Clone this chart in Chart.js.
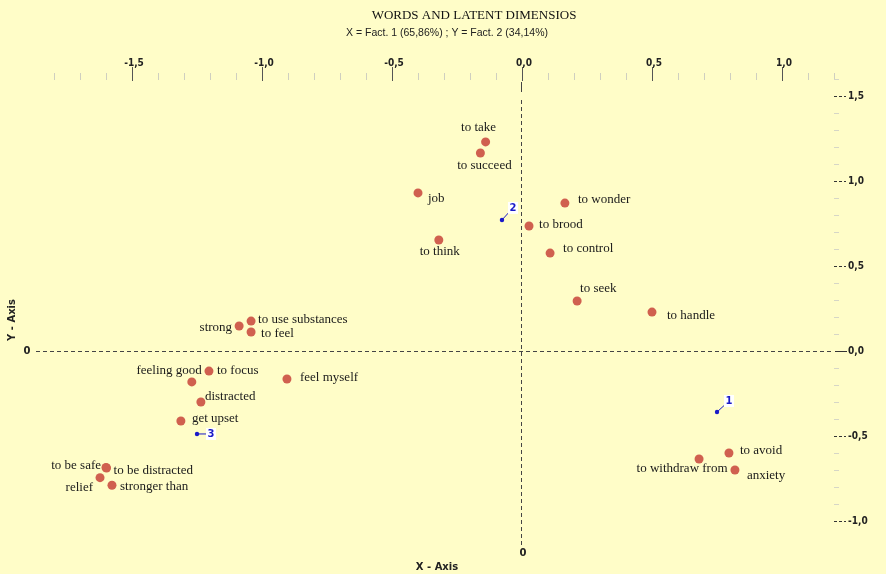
<!DOCTYPE html>
<html>
<head>
<meta charset="utf-8">
<script src="https://cdn.jsdelivr.net/npm/chart.js@4/dist/chart.umd.min.js"></script>
<style>
  html,body{margin:0;padding:0;background:#FFFDC8;}
  #wrap{width:886px;height:574px;}
</style>
</head>
<body>
<div id="wrap"><canvas id="c" width="886" height="574"></canvas></div>
<script>
// ---- data ----
const words = ["to take","to succeed","job","to wonder","to brood","to control","to think","to seek","to handle",
  "to use substances","strong","to feel","to focus","feeling good","feel myself","distracted","get upset",
  "to be safe","to be distracted","relief","stronger than","to avoid","to withdraw from","anxiety"];
const wordX = [-0.14,-0.16,-0.40,0.165,0.027,0.108,-0.32,0.212,0.50,
  -1.042,-1.088,-1.042,-1.204,-1.27,-0.904,-1.235,-1.312,
  -1.60,-1.598,-1.623,-1.577,0.796,0.681,0.819];
const wordY = [1.23,1.165,0.93,0.87,0.735,0.576,0.653,0.294,0.229,
  0.176,0.147,0.112,-0.118,-0.182,-0.165,-0.30,-0.412,
  -0.685,-0.688,-0.745,-0.79,-0.60,-0.635,-0.70];
const groupIds = ["1","2","3"];
const groupX = [0.750,-0.077,-1.250];
const groupY = [-0.359,0.771,-0.488];
const xMajorTicks = [-1.5,-1.0,-0.5,0.0,0.5,1.0];
const yMajorTicks = [1.5,1.0,0.5,0.0,-0.5,-1.0];
const titleText = "WORDS AND LATENT DIMENSIOS";
const subtitleText = "X = Fact. 1 (65,86%) ; Y = Fact. 2 (34,14%)";

// ---- label placement (style only) ----
// [dx, dy, align]
const labelPlace = {
  "to take":[-7,-14,"center"], "to succeed":[4,13,"center"], "job":[10,6,"left"],
  "to wonder":[13,-4,"left"], "to brood":[10,-1,"left"], "to control":[13,-5,"left"],
  "to think":[1,12,"center"], "to seek":[3,-12,"left"], "to handle":[15,4,"left"],
  "to use substances":[7,-2,"left"], "strong":[-7,2,"right"], "to feel":[10,2,"left"],
  "to focus":[8,0,"left"], "feeling good":[10,-11,"right"], "feel myself":[13,-1,"left"],
  "distracted":[4,-5,"left"], "get upset":[11,-2,"left"], "to be safe":[-5,-2,"right"],
  "to be distracted":[7,3,"left"], "relief":[-7,10,"right"], "stronger than":[8,1,"left"],
  "to avoid":[11,-2,"left"], "to withdraw from":[-17,10,"center"], "anxiety":[12,6,"left"]
};
const groupPlace = {"1":[12,-11],"2":[11,-12],"3":[14,0]};

const fmt = v => (Math.abs(v) < 1e-9 ? "0,0" : v.toFixed(1).replace('.', ','));

const overlay = {
  id: 'overlay',
  beforeDraw(chart){
    const c = chart.ctx;
    c.save();
    c.fillStyle = '#FFFDC8';
    c.fillRect(0,0,chart.width,chart.height);
    c.restore();
  },
  beforeDatasetsDraw(chart){
    const c = chart.ctx, xs = chart.scales.x, ys = chart.scales.y;
    const x0 = xs.getPixelForValue(0), y0 = ys.getPixelForValue(0);
    c.save();
    // titles
    c.fillStyle = '#111';
    c.textAlign = 'center'; c.textBaseline = 'middle';
    c.font = '13px "Liberation Serif", serif';
    c.fillText(titleText, 474, 16);
    c.font = '10.5px "Liberation Sans", Arial, sans-serif';
    c.fillStyle = '#222';
    c.fillText(subtitleText, 447, 33);

    // top axis ticks
    for (let i = -18; i <= 12; i++) {
      const v = i / 10;
      const px = Math.round(xs.getPixelForValue(v)) + 0.5;
      const major = (i % 5 === 0);
      c.beginPath();
      if (major) { c.strokeStyle = '#555'; c.moveTo(px, 67); c.lineTo(px, 81); }
      else { c.strokeStyle = '#CFCFC0'; c.moveTo(px, 73); c.lineTo(px, 80); }
      c.lineWidth = 1; c.stroke();
    }
    c.font = 'bold 10px "DejaVu Sans Condensed", "DejaVu Sans", sans-serif';
    c.fillStyle = '#222';
    c.textAlign = 'center'; c.textBaseline = 'middle';
    xMajorTicks.forEach(v => {
      const px = xs.getPixelForValue(v);
      c.fillText(fmt(v), px + 2, 63);
    });

    // right axis ticks
    for (let i = -10; i <= 16; i++) {
      const v = i / 10;
      const py = Math.round(ys.getPixelForValue(v)) + 0.5;
      if (i % 5 !== 0) {
        c.beginPath(); c.strokeStyle = '#D6D6C6'; c.lineWidth = 1;
        c.moveTo(834, py); c.lineTo(839, py); c.stroke();
      }
    }
    yMajorTicks.forEach(v => {
      const py = Math.round(ys.getPixelForValue(v)) + 0.5;
      c.beginPath(); c.strokeStyle = '#333'; c.lineWidth = 1;
      if (v === 0) { c.setLineDash([]); c.moveTo(835, py); c.lineTo(847, py); }
      else { c.setLineDash([3,2]); c.moveTo(834, py); c.lineTo(846, py); }
      c.stroke(); c.setLineDash([]);
      c.fillStyle = '#222';
      c.textAlign = 'left'; c.textBaseline = 'middle';
      c.fillText(fmt(v), 848, py);
    });

    // dashed zero lines
    c.strokeStyle = '#444'; c.lineWidth = 1; c.setLineDash([4,3]);
    c.beginPath(); c.moveTo(36, Math.round(y0)+0.5); c.lineTo(834, Math.round(y0)+0.5); c.stroke();
    c.beginPath(); c.moveTo(Math.round(x0)-0.5, 100); c.lineTo(Math.round(x0)-0.5, 545); c.stroke();
    c.setLineDash([]);
    c.beginPath(); c.moveTo(Math.round(x0)-0.5, 82); c.lineTo(Math.round(x0)-0.5, 92); c.stroke();

    c.fillStyle = '#222';
    c.font = 'bold 10px "DejaVu Sans", sans-serif';
    c.textAlign = 'center'; c.textBaseline = 'middle';
    c.fillText('0', 27, y0);
    c.fillText('0', x0 + 1, 553);
    c.fillText('X - Axis', 437, 567);
    c.save();
    c.translate(12, 320); c.rotate(-Math.PI/2);
    c.fillText('Y - Axis', 0, 0);
    c.restore();

    // group connector lines
    c.strokeStyle = '#1A1AC8'; c.lineWidth = 1;
    groupIds.forEach((g, i) => {
      const px = xs.getPixelForValue(groupX[i]), py = ys.getPixelForValue(groupY[i]);
      const [dx, dy] = groupPlace[g];
      c.beginPath(); c.moveTo(px, py);
      c.lineTo(px + dx*0.75, py + dy*0.75); c.stroke();
    });
    c.restore();
  },
  afterDatasetsDraw(chart){
    const c = chart.ctx, xs = chart.scales.x, ys = chart.scales.y;
    c.save();
    c.font = '13px "Liberation Serif", "Times New Roman", serif';
    c.fillStyle = '#1a1a1a';
    c.textBaseline = 'middle';
    words.forEach((w, i) => {
      const px = xs.getPixelForValue(wordX[i]), py = ys.getPixelForValue(wordY[i]);
      const [dx, dy, al] = labelPlace[w];
      c.textAlign = al;
      c.fillText(w, px + dx, py + dy);
    });
    c.font = 'bold 10px "DejaVu Sans", sans-serif';
    c.textAlign = 'center';
    groupIds.forEach((g, i) => {
      const px = xs.getPixelForValue(groupX[i]), py = ys.getPixelForValue(groupY[i]);
      const [dx, dy] = groupPlace[g];
      c.fillStyle = '#FFFFFF';
      c.fillRect(px + dx - 5, py + dy - 6, 10, 12);
      c.fillStyle = '#1A1AC8';
      c.fillText(g, px + dx, py + dy);
    });
    c.restore();
  }
};

new Chart(document.getElementById('c'), {
  type: 'scatter',
  data: {
    datasets: [
      {
        label: 'words',
        data: words.map((w, i) => ({x: wordX[i], y: wordY[i]})),
        pointRadius: 4.5,
        pointBackgroundColor: '#D0604F',
        pointBorderWidth: 0,
        pointBorderColor: '#D0604F'
      },
      {
        label: 'groups',
        data: groupIds.map((g, i) => ({x: groupX[i], y: groupY[i]})),
        pointRadius: 2.2,
        pointBackgroundColor: '#1A1AC8',
        pointBorderWidth: 0
      }
    ]
  },
  options: {
    responsive: false,
    devicePixelRatio: 1,
    animation: false,
    layout: { padding: { left: 54, right: 39, top: 79, bottom: 27.5 } },
    plugins: { legend: { display: false }, tooltip: { enabled: false }, title: { display: false } },
    scales: {
      x: { type: 'linear', min: -1.8, max: 1.25, display: false },
      y: { type: 'linear', min: -1.15, max: 1.6, display: false }
    }
  },
  plugins: [overlay]
});
</script>
</body>
</html>
